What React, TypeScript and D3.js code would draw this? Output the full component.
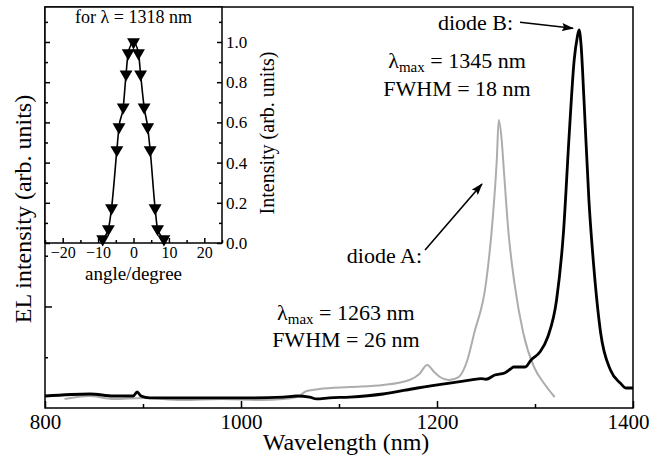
import React, { useRef, useEffect } from "react";
import * as d3 from "d3";

// diode B (black): wavelength (nm) / EL intensity (arb. units)
const wavelengthB = [
  800, 846, 870, 890, 894, 898, 907, 950, 1000, 1043, 1057, 1070, 1077, 1090,
  1111, 1145, 1180, 1213, 1235, 1245, 1250, 1259, 1269, 1275, 1278, 1290, 1296,
  1305, 1313, 1322, 1329, 1335, 1340, 1343, 1345, 1347, 1350, 1355, 1360, 1367,
  1377, 1387, 1393, 1400,
];
const intensityB = [
  0.118, 0.138, 0.118, 0.118, 0.158, 0.118, 0.099, 0.099, 0.099, 0.108, 0.118,
  0.108, 0.089, 0.099, 0.108, 0.138, 0.197, 0.246, 0.276, 0.29, 0.283, 0.325,
  0.345, 0.384, 0.404, 0.404, 0.473, 0.552, 0.7, 1.064, 1.724, 2.709, 3.429,
  3.645, 3.724, 3.576, 3.034, 2.049, 1.389, 0.739, 0.374, 0.246, 0.197, 0.197,
];

// diode A (grey)
const wavelengthA = [
  820, 845, 870, 900, 940, 980, 1020, 1043, 1057, 1067, 1080, 1111, 1145, 1172,
  1182, 1190, 1197, 1203, 1212, 1222, 1231, 1238, 1250, 1257, 1261, 1263, 1266,
  1268, 1273, 1279, 1288, 1299, 1309, 1320,
];
const intensityA = [
  0.089, 0.118, 0.089, 0.099, 0.079, 0.089, 0.079, 0.089, 0.108, 0.167, 0.187,
  0.207, 0.227, 0.276, 0.335, 0.424, 0.355, 0.305, 0.276, 0.305, 0.473, 0.739,
  1.232, 1.882, 2.443, 2.837, 2.64, 2.374, 1.724, 1.232, 0.739, 0.404, 0.246,
  0.108,
];

// inset: angular dependence at 1318 nm
const angles = [
  -8.7, -7.1, -6.2, -4.7, -4.1, -2.9, -2.1, -1.5, 0, 1.4, 2.0, 3.0, 4.0, 4.7,
  6.1, 6.8, 8.6,
];
const angleIntensity = [
  0.02, 0.07, 0.174, 0.463, 0.577, 0.676, 0.84, 0.945, 1.0, 0.945, 0.84, 0.676,
  0.577, 0.463, 0.174, 0.07, 0.02,
];

const xTicks = [800, 1000, 1200, 1400];
const xMinorTicks = [900, 1100, 1300];
const yTicks = [1, 2, 3];
const yMinorTicks = [0.5, 1.5, 2.5, 3.5];
const insetXTicks = [-20, -10, 0, 10, 20];
const insetXMinorTicks = [-25, -15, -5, 5, 15, 25];
const insetYTicks = [0, 0.2, 0.4, 0.6, 0.8, 1.0];
const insetYMinorTicks = [0.1, 0.3, 0.5, 0.7, 0.9, 1.1];

const FONT = "'Liberation Serif', 'Times New Roman', serif";

const App = () => {
  const ref = useRef<SVGSVGElement>(null);

  useEffect(() => {
    const svg = d3.select(ref.current);
    svg.selectAll("*").remove();

    const W = 650;
    const H = 458;
    const left = 45,
      right = 633,
      top = 7,
      bottom = 408;

    const x = d3.scaleLinear().domain([800, 1400]).range([left, right]);
    const y = d3.scaleLinear().domain([0, 3.95]).range([bottom, top]);

    svg.attr("width", W).attr("height", H);

    const defs = svg.append("defs");
    defs
      .append("marker")
      .attr("id", "arrow")
      .attr("markerUnits", "userSpaceOnUse")
      .attr("markerWidth", 12)
      .attr("markerHeight", 8)
      .attr("refX", 11)
      .attr("refY", 4)
      .attr("orient", "auto")
      .append("path")
      .attr("d", "M0,0 L12,4 L0,8 L2,4 z")
      .attr("fill", "#000");

    const g = svg.append("g");

    // spectra
    const lineA = d3
      .line<number>()
      .x((d, i) => x(wavelengthA[i]))
      .y((d) => y(d))
      .curve(d3.curveMonotoneX);
    const lineB = d3
      .line<number>()
      .x((d, i) => x(wavelengthB[i]))
      .y((d) => y(d))
      .curve(d3.curveMonotoneX);

    g.append("path")
      .datum(intensityA)
      .attr("fill", "none")
      .attr("stroke", "#adadad")
      .attr("stroke-width", 2)
      .attr("d", lineA);

    g.append("path")
      .datum(intensityB)
      .attr("fill", "none")
      .attr("stroke", "#000")
      .attr("stroke-width", 2.8)
      .attr("d", lineB);

    // axes (ticks pointing inward)
    const styleAxis = (sel) => {
      sel.select(".domain").remove();
      sel.selectAll("line").attr("stroke", "#000").attr("stroke-width", 1.5);
      sel
        .selectAll("text")
        .attr("font-family", FONT)
        .attr("fill", "#000");
    };

    g.append("g")
      .attr("transform", `translate(0,${bottom})`)
      .call(
        d3
          .axisBottom(x)
          .tickValues(xTicks)
          .tickSize(-7)
          .tickPadding(6)
          .tickFormat(d3.format("d"))
      )
      .call(styleAxis)
      .selectAll("text")
      .attr("font-size", 21)
      .attr("dx", (d) => (d === 1400 ? -5 : 0));
    g.append("g")
      .attr("transform", `translate(0,${bottom})`)
      .call(
        d3.axisBottom(x).tickValues(xMinorTicks).tickSize(-4).tickFormat(() => "")
      )
      .call(styleAxis);

    g.append("g")
      .attr("transform", `translate(${left},0)`)
      .call(d3.axisLeft(y).tickValues(yTicks).tickSize(-7).tickFormat(() => ""))
      .call(styleAxis);
    g.append("g")
      .attr("transform", `translate(${left},0)`)
      .call(
        d3.axisLeft(y).tickValues(yMinorTicks).tickSize(-3).tickFormat(() => "")
      )
      .call(styleAxis);

    g.append("rect")
      .attr("x", left)
      .attr("y", top)
      .attr("width", right - left)
      .attr("height", bottom - top)
      .attr("fill", "none")
      .attr("stroke", "#000")
      .attr("stroke-width", 1.5);

    g.append("text")
      .attr("x", 346)
      .attr("y", 450)
      .attr("text-anchor", "middle")
      .attr("font-family", FONT)
      .attr("font-size", 24)
      .text("Wavelength (nm)");

    g.append("text")
      .attr("transform", `translate(31,209) rotate(-90)`)
      .attr("text-anchor", "middle")
      .attr("font-family", FONT)
      .attr("font-size", 24)
      .text("EL intensity (arb. units)");

    // annotations
    const label = (lx, ly, anchor, parts) => {
      const t = g
        .append("text")
        .attr("x", x(lx))
        .attr("y", y(ly))
        .attr("text-anchor", anchor)
        .attr("font-family", FONT)
        .attr("font-size", 22);
      parts.forEach(([txt, kind]) => {
        const s = t.append("tspan").text(txt);
        if (kind === "sub") s.attr("font-size", 15).attr("dy", 4);
        if (kind === "up") s.attr("dy", -4);
      });
    };

    label(1277.6, 3.724, "end", [["diode B:"]]);
    label(1220.4, 3.35, "middle", [["λ"], ["max", "sub"], [" = 1345 nm", "up"]]);
    label(1220.4, 3.074, "middle", [["FWHM = 18 nm"]]);
    label(1184.7, 1.429, "end", [["diode A:"]]);
    label(1107, 0.867, "middle", [["λ"], ["max", "sub"], [" = 1263 nm", "up"]]);
    label(1107, 0.6, "middle", [["FWHM = 26 nm"]]);

    const arrow = (x1, y1, x2, y2) =>
      g
        .append("line")
        .attr("x1", x(x1))
        .attr("y1", y(y1))
        .attr("x2", x(x2))
        .attr("y2", y(y2))
        .attr("stroke", "#000")
        .attr("stroke-width", 1.6)
        .attr("marker-end", "url(#arrow)");
    arrow(1284.7, 3.8, 1338.8, 3.74);
    arrow(1187.8, 1.557, 1245.9, 2.207);

    // inset
    const iLeft = left,
      iRight = 222,
      iTop = top,
      iBottom = 243;
    const ix = d3.scaleLinear().domain([-25, 25]).range([iLeft, iRight]);
    const iy = d3.scaleLinear().domain([0, 1.174]).range([iBottom, iTop]);

    const ig = svg.append("g");
    ig.append("rect")
      .attr("x", iLeft)
      .attr("y", iTop)
      .attr("width", iRight - iLeft)
      .attr("height", iBottom - iTop)
      .attr("fill", "#fff");

    const iLine = d3
      .line<number>()
      .x((d, i) => ix(angles[i]))
      .y((d) => iy(d))
      .curve(d3.curveMonotoneX);
    ig.append("path")
      .datum(angleIntensity)
      .attr("fill", "none")
      .attr("stroke", "#000")
      .attr("stroke-width", 1.6)
      .attr("d", iLine);

    ig.selectAll(".tri")
      .data(angleIntensity)
      .join("path")
      .attr("class", "tri")
      .attr("d", d3.symbol().type(d3.symbolTriangle).size(72)())
      .attr(
        "transform",
        (d, i) => `translate(${ix(angles[i])},${iy(d)}) rotate(180)`
      )
      .attr("fill", "#000");

    ig.append("g")
      .attr("transform", `translate(0,${iBottom})`)
      .call(
        d3
          .axisBottom(ix)
          .tickValues(insetXTicks)
          .tickSize(-5)
          .tickPadding(4)
          .tickFormat((d) => (d < 0 ? "\u2212" + Math.abs(d) : String(d)))
      )
      .call(styleAxis)
      .selectAll("text")
      .attr("font-size", 16);
    ig.append("g")
      .attr("transform", `translate(0,${iBottom})`)
      .call(
        d3
          .axisBottom(ix)
          .tickValues(insetXMinorTicks)
          .tickSize(-3)
          .tickFormat(() => "")
      )
      .call(styleAxis);

    ig.append("g")
      .attr("transform", `translate(${iRight},0)`)
      .call(
        d3
          .axisRight(iy)
          .tickValues(insetYTicks)
          .tickSize(-5)
          .tickPadding(4)
          .tickFormat(d3.format(".1f"))
      )
      .call(styleAxis)
      .selectAll("text")
      .attr("font-size", 17);
    ig.append("g")
      .attr("transform", `translate(${iRight},0)`)
      .call(
        d3.axisRight(iy).tickValues(insetYMinorTicks).tickSize(-3).tickFormat(() => "")
      )
      .call(styleAxis);
    ig.append("g")
      .attr("transform", `translate(${iLeft},0)`)
      .call(d3.axisLeft(iy).tickValues(insetYTicks).tickSize(-5).tickFormat(() => ""))
      .call(styleAxis);
    ig.append("g")
      .attr("transform", `translate(${iLeft},0)`)
      .call(
        d3.axisLeft(iy).tickValues(insetYMinorTicks).tickSize(-3).tickFormat(() => "")
      )
      .call(styleAxis);

    ig.append("rect")
      .attr("x", iLeft)
      .attr("y", iTop)
      .attr("width", iRight - iLeft)
      .attr("height", iBottom - iTop)
      .attr("fill", "none")
      .attr("stroke", "#000")
      .attr("stroke-width", 1.5);

    ig.append("text")
      .attr("x", (iLeft + iRight) / 2)
      .attr("y", 23)
      .attr("text-anchor", "middle")
      .attr("font-family", FONT)
      .attr("font-size", 18)
      .text("for λ = 1318 nm");

    ig.append("text")
      .attr("x", (iLeft + iRight) / 2)
      .attr("y", 280)
      .attr("text-anchor", "middle")
      .attr("font-family", FONT)
      .attr("font-size", 19)
      .text("angle/degree");

    ig.append("text")
      .attr("transform", `translate(274,${(iTop + iBottom) / 2 + 8}) rotate(-90)`)
      .attr("text-anchor", "middle")
      .attr("font-family", FONT)
      .attr("font-size", 20)
      .text("Intensity (arb. units)");

    return () => {
      svg.selectAll("*").remove();
    };
  }, []);

  return (
    <svg
      ref={ref}
      style={{ position: "absolute", left: 0, top: 0, display: "block", background: "#fff" }}
    />
  );
};

export default App;
